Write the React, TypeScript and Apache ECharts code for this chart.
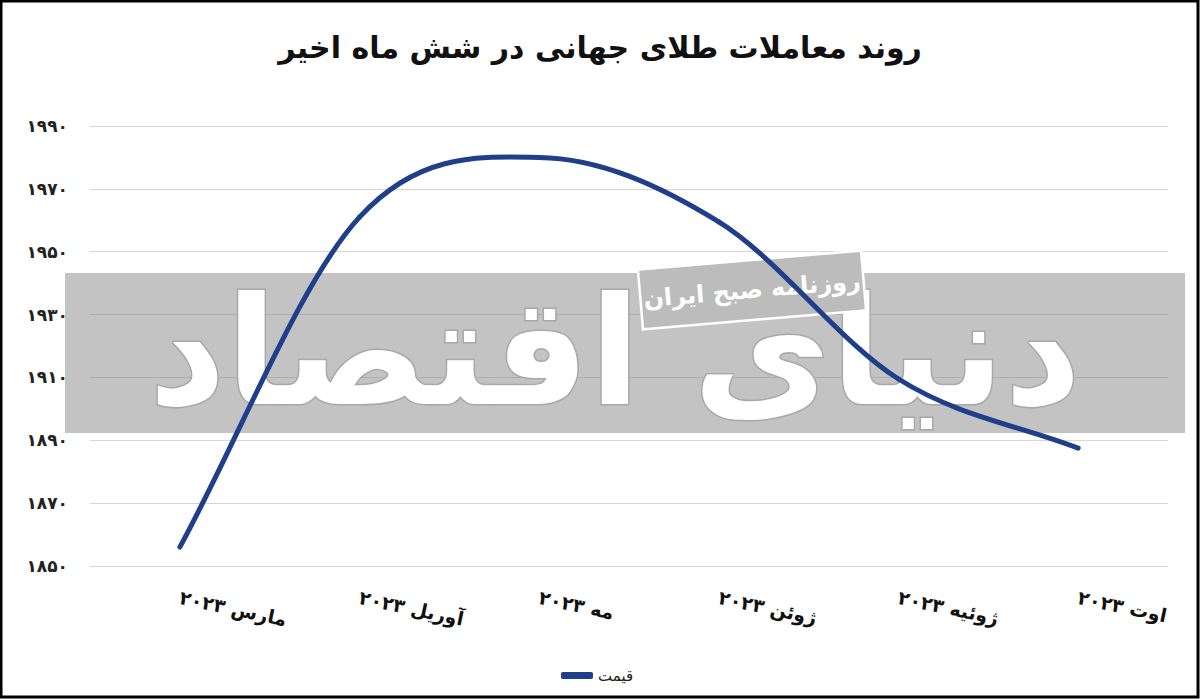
import React, { useEffect, useRef } from "react";
import * as echarts from "echarts";

const title = "روند معاملات طلای جهانی در شش ماه اخیر";
const categories = ["مارس ۲۰۲۳", "آوریل ۲۰۲۳", "مه ۲۰۲۳", "ژوئن ۲۰۲۳", "ژوئیه ۲۰۲۳", "اوت ۲۰۲۳"];
const prices = [1856, 1961, 1980, 1959.5, 1909.5, 1887.5];
const seriesName = "قیمت";
const yMin = 1850;
const yMax = 1990;
const yStep = 20;
const watermarkMain = "دنیای اقتصاد";
const watermarkSub = "روزنامه صبح ایران";

const faDigits = "۰۱۲۳۴۵۶۷۸۹";
const toFa = (v: number | string) => String(v).replace(/[0-9]/g, (d) => faDigits[Number(d)]);

const FONT = "'DejaVu Sans', 'Noto Sans', sans-serif";
const LINE_COLOR = "#1f3f8a";

export default function App() {
  const ref = useRef<HTMLDivElement>(null);
  useEffect(() => {
    if (!ref.current) return;
    const chart = echarts.init(ref.current, undefined, { renderer: "svg" });

    const renderItem = (params: any, api: any) => {
      const i = params.dataIndex;
      const n = prices.length;
      if (i >= n - 1) return null;
      const pt = (k: number) => api.coord([k, prices[k]]);
      const tangent = (k: number) => {
        if (k === 0) {
          const a = pt(0), b = pt(1);
          return [b[0] - a[0], b[1] - a[1]];
        }
        if (k === n - 1) {
          const a = pt(n - 2), b = pt(n - 1);
          return [b[0] - a[0], b[1] - a[1]];
        }
        const a = pt(k - 1), b = pt(k + 1);
        return [(b[0] - a[0]) / 2, (b[1] - a[1]) / 2];
      };
      const p0 = pt(i), p3 = pt(i + 1);
      const m0 = tangent(i), m1 = tangent(i + 1);
      return {
        type: "bezierCurve",
        shape: {
          x1: p0[0], y1: p0[1],
          x2: p3[0], y2: p3[1],
          cpx1: p0[0] + m0[0] / 3, cpy1: p0[1] + m0[1] / 3,
          cpx2: p3[0] - m1[0] / 3, cpy2: p3[1] - m1[1] / 3,
        },
        style: { stroke: LINE_COLOR, lineWidth: 5, lineCap: "round", fill: "none" },
      };
    };

    chart.setOption({
      animation: false,
      backgroundColor: "#ffffff",
      title: {
        text: title,
        left: "center",
        top: 27,
        textStyle: { fontFamily: FONT, fontSize: 30, fontWeight: "bold", color: "#111" },
      },
      grid: { left: 90, right: 32, top: 126, bottom: 133, containLabel: false },
      legend: {
        bottom: 11,
        left: 556,
        icon: "roundRect",
        itemWidth: 32,
        itemHeight: 7,
        itemGap: 4,
        textStyle: { fontFamily: FONT, fontSize: 15, color: "#222" },
        data: [seriesName],
      },
      xAxis: {
        type: "category",
        data: categories,
        boundaryGap: true,
        axisLine: { show: false },
        axisTick: { show: false },
        axisLabel: {
          fontFamily: FONT,
          fontSize: 19,
          fontWeight: "bold",
          color: "#111",
          rotate: -12,
          margin: 31,
          interval: 0,
        },
      },
      yAxis: {
        type: "value",
        min: yMin,
        max: yMax,
        interval: yStep,
        axisLine: { show: false },
        axisTick: { show: false },
        splitLine: { lineStyle: { color: "#d6d6d6", width: 1.2 } },
        axisLabel: {
          fontFamily: FONT,
          fontSize: 17,
          fontWeight: "bold",
          color: "#222",
          margin: 22,
          formatter: (v: number) => toFa(v),
        },
      },
      graphic: [
        {
          type: "rect",
          z: 1,
          shape: { x: 65, y: 273, width: 1120, height: 160 },
          style: { fill: "rgba(140,140,140,0.52)" },
        },
        {
          type: "text",
          z: 2,
          x: 615,
          y: 352,
          style: {
            text: watermarkMain,
            font: `bold 150px ${FONT}`,
            fill: "#ffffff",
            stroke: "#a8a8a8",
            lineWidth: 3,
            textAlign: "center",
            textVerticalAlign: "middle",
          },
        },
        {
          type: "group",
          x: 752,
          y: 290,
          rotation: 0.085,
          z: 3,
          children: [
            {
              type: "rect",
              z: 3,
              shape: { x: -112, y: -30, width: 224, height: 60 },
              style: { fill: "#bcbcbc", stroke: "#ffffff", lineWidth: 2.5 },
            },
            {
              type: "text",
              z: 3,
              x: 0,
              y: 0,
              style: {
                text: watermarkSub,
                font: `bold 24px ${FONT}`,
                fill: "#ffffff",
                textAlign: "center",
                textVerticalAlign: "middle",
              },
            },
          ],
        },
        {
          type: "rect",
          z: 100,
          shape: { x: 1, y: 1, width: 1197, height: 696 },
          style: { fill: "none", stroke: "#000", lineWidth: 3 },
        },
      ],
      series: [
        {
          name: seriesName,
          type: "custom",
          coordinateSystem: "cartesian2d",
          data: prices.map((v, i) => [i, v]),
          encode: { x: 0, y: 1 },
          renderItem,
          z: 5,
          itemStyle: { color: LINE_COLOR },
        },
      ],
    });
    return () => chart.dispose();
  }, []);
  return <div ref={ref} style={{ position: "absolute", left: 0, top: 0, width: 1200, height: 699 }} />;
}
